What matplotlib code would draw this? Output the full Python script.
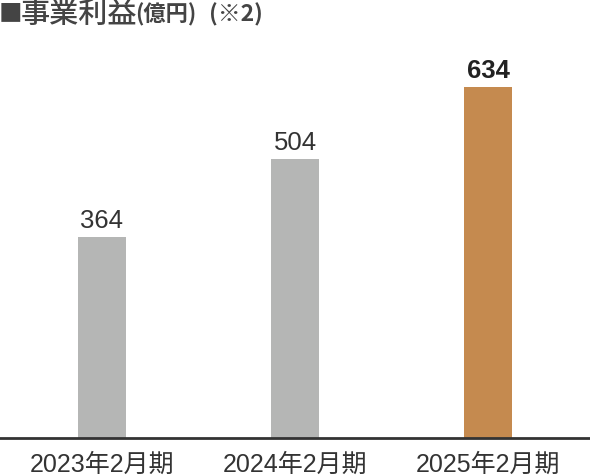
import matplotlib
matplotlib.use("Agg")
import matplotlib.pyplot as plt

categories = ["2023年2月期", "2024年2月期", "2025年2月期"]
values = [364, 504, 634]
bar_colors = ["#b5b6b5", "#b5b6b5", "#c58a4f"]
title_mark = "■"
title_main = "事業利益"
title_unit = "(億円)"
title_note = "(※2)"

FAM = ["Liberation Sans", "Noto Sans CJK JP", "DejaVu Sans"]
CJK = ["Noto Sans CJK JP", "DejaVu Sans"]
plt.rcParams["font.family"] = FAM

W, H = 590, 476
fig = plt.figure(figsize=(W / 100, H / 100), dpi=100)
base_px = 438
ax = fig.add_axes([0, (H - base_px) / H, 1, base_px / H])
ax.set_ylim(0, base_px / 0.553)
xs = list(range(len(values)))
ax.set_xlim(-0.528, 2.528)
ax.bar(xs, values, width=0.249, color=bar_colors, zorder=2)

for i, v in enumerate(values):
    last = i == len(values) - 1
    ax.annotate(f"{v}", (i, v), xytext=(0, 3), textcoords="offset points",
                ha="center", va="bottom", fontsize=18.5,
                fontweight="bold" if last else "normal",
                color="#222222" if last else "#333333")

for s in ["top", "right", "left"]:
    ax.spines[s].set_visible(False)
ax.spines["bottom"].set_color("#333333")
ax.spines["bottom"].set_linewidth(2)
ax.set_yticks([])
ax.set_xticks(xs)
ax.set_xticklabels(categories, fontsize=18, color="#333333")
ax.tick_params(axis="x", length=0, pad=11)

yc = 1 - 14 / H
fig.text(-1 / W, yc, title_mark, fontsize=17, family=CJK,
         color="#444444", va="center", ha="left")
fig.text(21 / W, yc, title_main, fontsize=21, family=CJK, fontweight="medium",
         color="#444444", va="center", ha="left")
fig.text(135 / W, 1 - 15 / H, title_unit, fontsize=16, family=CJK, fontweight="bold",
         color="#444444", va="center", ha="left")
fig.text(209 / W, 1 - 15 / H, title_note, fontsize=16.5, family=CJK, fontweight="bold",
         color="#444444", va="center", ha="left")

fig.savefig("out.png", dpi=100)
